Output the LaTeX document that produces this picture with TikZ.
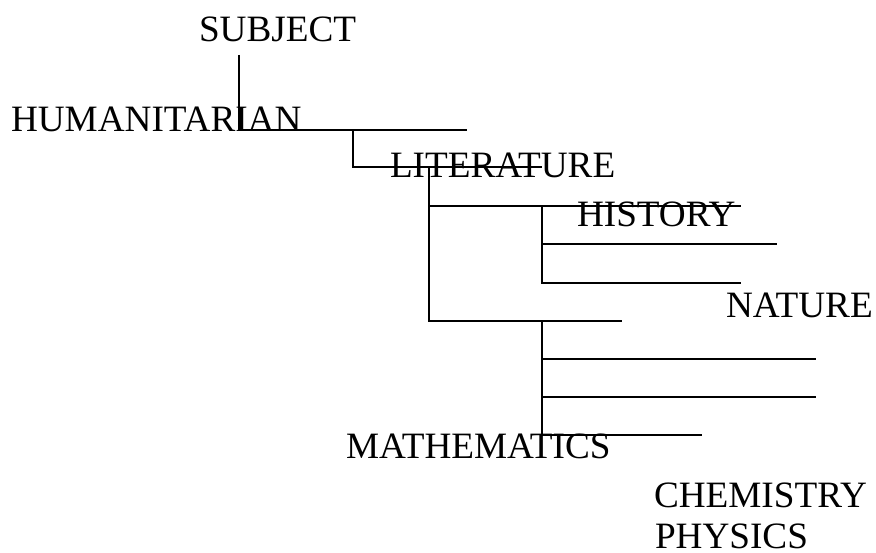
\documentclass[tikz,border=0pt]{standalone}
\usepackage{fontspec}
\setmainfont{Liberation Serif}
\begin{document}
\begin{tikzpicture}[x=1pt,y=-1pt,
  lbl/.style={anchor=base west, inner sep=0pt, outer sep=0pt, font=\fontsize{37.2}{40}\selectfont},
  conn/.style={line width=2pt, line join=miter, line cap=butt, draw=black}]
\useasboundingbox[fill=white] (0,0) rectangle (876,553);
% labels
\node[lbl] (subject) at (199,42) {SUBJECT};
\node[lbl] (human) at (11,132) {HUMANITARIAN};
\node[lbl] (lit) at (390,177.5) {LITERATURE};
\node[lbl] (hist) at (577,226.5) {HISTORY};
\node[lbl] (nat) at (726,318) {NATURE};
\node[lbl] (math) at (346,458.5) {MATHEMATICS};
\node[lbl] (chem) at (654,507) {CHEMISTRY};
\node[lbl] (phys) at (655,548.5) {PHYSICS};
% connector points
\coordinate (a1) at (239,55);
\coordinate (a2) at (467,130);
\coordinate (b1) at (353,130);
\coordinate (b2) at (542,167);
\coordinate (c1) at (429,167);
\coordinate (c2) at (429,206);
\coordinate (c2e) at (741,206);
\coordinate (c4e) at (622,321);
\coordinate (d1) at (542,206);
\coordinate (d2) at (542,244);
\coordinate (d2e) at (777,244);
\coordinate (d3e) at (741,283);
\coordinate (e1) at (542,321);
\coordinate (e2) at (542,359);
\coordinate (e2e) at (816,359);
\coordinate (e3) at (542,397);
\coordinate (e3e) at (816,397);
\coordinate (e4e) at (702,435);
% connectors
\draw[conn] (a1) |- (a2);
\draw[conn] (b1) |- (b2);
\draw[conn] (c1) |- (c4e);
\draw[conn] (c2) -- (c2e);
\draw[conn] (d1) |- (d3e);
\draw[conn] (d2) -- (d2e);
\draw[conn] (e1) |- (e4e);
\draw[conn] (e2) -- (e2e);
\draw[conn] (e3) -- (e3e);
\end{tikzpicture}
\end{document}
